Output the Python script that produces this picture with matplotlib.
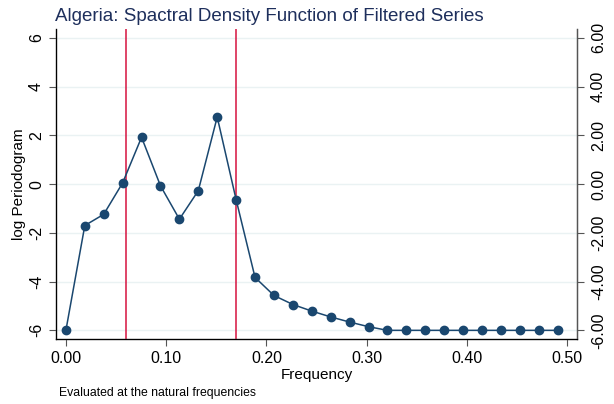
import matplotlib
matplotlib.use("Agg")
import numpy as np
import matplotlib.pyplot as plt

# periodogram evaluated at the natural frequencies k/53
n_obs = 53
log_periodogram = [
    -6.00, -1.70, -1.24, 0.05, 1.92, -0.07, -1.44, -0.27, 2.75, -0.64,
    -3.83, -4.57, -4.94, -5.21, -5.45, -5.66, -5.85, -6.00, -6.00, -6.00,
    -6.00, -6.00, -6.00, -6.00, -6.00, -6.00, -6.00,
]
band_lines = [0.06, 0.17]
x_ticks = [0.0, 0.1, 0.2, 0.3, 0.4, 0.5]
y_ticks = [-6, -4, -2, 0, 2, 4, 6]

freq = np.arange(len(log_periodogram)) / n_obs

plt.rcParams["font.family"] = ["Liberation Sans", "DejaVu Sans"]

navy = "#1a476f"
fig = plt.figure(figsize=(6.14, 4.04), dpi=100)
ax = fig.add_axes([0.091, 0.160, 0.849, 0.7675])

ax.plot(freq, log_periodogram, color=navy, lw=1.1, marker="o",
        markersize=6, zorder=3)
for x in band_lines:
    ax.axvline(x, color="#d6123f", lw=1.1, zorder=2)

ax.set_xlim(-0.01, 0.51)
ax.set_ylim(-6.37, 6.35)
ax.set_xticks(x_ticks)
ax.set_xticklabels([f"{t:.2f}" for t in x_ticks])
ax.set_yticks(y_ticks)
ax.set_yticklabels([str(t) for t in y_ticks], rotation=90, va="center")
for t in y_ticks:
    ax.axhline(t, color="#eaf2f3", lw=1.0, zorder=1)

ax.spines["top"].set_visible(False)
for s in ("left", "bottom", "right"):
    ax.spines[s].set_color("#555555")
    ax.spines[s].set_linewidth(1.0)
ax.tick_params(axis="both", labelsize=11.5, color="#555555", length=5)

ax2 = ax.twinx()
ax2.set_ylim(ax.get_ylim())
ax2.set_yticks(y_ticks)
ax2.set_yticklabels([f"{t:.2f}" for t in y_ticks], rotation=90, va="center")
ax2.spines["top"].set_visible(False)
ax2.spines["right"].set_color("#555555")
ax2.tick_params(axis="y", labelsize=11.5, color="#555555", length=5, pad=5)

ax.set_xlabel("Frequency", fontsize=11, labelpad=1)
ax.set_ylabel("log Periodogram", fontsize=11, labelpad=2)
fig.suptitle("Algeria: Spactral Density Function of Filtered Series",
             x=0.438, y=0.98, fontsize=13.5, color="#1e2f5c")
fig.text(0.096, 0.02, "Evaluated at the natural frequencies", fontsize=8.8)

fig.savefig("out.png", dpi=100)
